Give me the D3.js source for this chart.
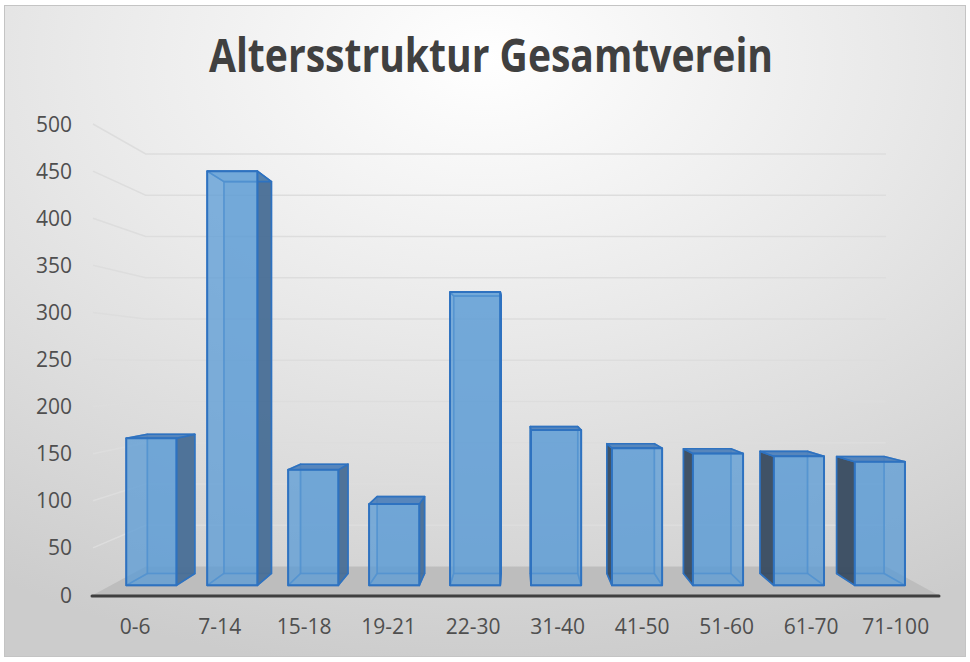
<!DOCTYPE html>
<html>
<head>
<meta charset="utf-8">
<script src="https://cdn.jsdelivr.net/npm/d3@7"></script>
<style>
  body { margin: 0; background: #fff; }
  svg { display: block; font-family: "Open Sans", "DejaVu Sans", sans-serif; }
</style>
</head>
<body>
<div id="chart"></div>
<script>
// Data
const categories = ["0-6", "7-14", "15-18", "19-21", "22-30", "31-40", "41-50", "51-60", "61-70", "71-100"];
const values = [163, 459, 128, 90, 325, 172, 152, 146, 143, 137];
const yTicks = [0, 50, 100, 150, 200, 250, 300, 350, 400, 450, 500];
const title = "Altersstruktur Gesamtverein";

const width = 970, height = 662;

// Front plane of the 3D box (z = 0), in pixels
const x = d3.scaleBand().domain(categories).range([93, 938])
    .paddingInner(0.38).paddingOuter(0.19);
const y = d3.scaleLinear().domain([0, 500]).range([595, 124]);

// Simple perspective: points recede toward a vanishing point as depth grows
const vp = {x: 518, y: 365};
const k = 1 / 0.876 - 1;            // depth 1 (back wall) is drawn at 0.876 scale
const barZ = [0.31, 0.73];          // bar front / back depth

function project(X, Y, z) {
    const s = 1 / (1 + k * z);
    return [vp.x + (X - vp.x) * s, vp.y + (Y - vp.y) * s];
}

const svg = d3.select("#chart").append("svg")
    .attr("width", width)
    .attr("height", height);

// --- Background ---
const defs = svg.append("defs");
const grad = defs.append("radialGradient")
    .attr("id", "bg")
    .attr("cx", "50%").attr("cy", "8%").attr("r", "95%");
grad.append("stop").attr("offset", "0%").attr("stop-color", "#ffffff");
grad.append("stop").attr("offset", "45%").attr("stop-color", "#e9e9e9");
grad.append("stop").attr("offset", "100%").attr("stop-color", "#cccccc");

svg.append("rect")
    .attr("x", 4.5).attr("y", 5.5)
    .attr("width", 961).attr("height", 651)
    .attr("fill", "url(#bg)")
    .attr("stroke", "#c4c4c4");

const line = d3.line();

// --- Gridlines on side wall and back wall ---
svg.append("g")
    .attr("fill", "none")
    .attr("stroke", "#dddddd")
    .attr("stroke-width", 1.5)
    .selectAll("path")
    .data(yTicks.filter(d => d > 0))
    .join("path")
    .attr("d", d => line([
        project(x.range()[0], y(d), 0),
        project(x.range()[0], y(d), 1),
        project(x.range()[1], y(d), 1)
    ]));

// --- Floor ---
const [fx0, fx1] = x.range();
svg.append("path")
    .attr("fill", "#bdbdbd")
    .attr("d", line([
        project(fx0, y(0), 0), project(fx1, y(0), 0),
        project(fx1, y(0), 1), project(fx0, y(0), 1)
    ]) + "Z");

// --- Bars ---
const bars = svg.append("g")
    .attr("stroke", "#2e72c0")
    .attr("stroke-width", 1.6)
    .attr("stroke-linejoin", "round")
    .selectAll("g")
    .data(categories.map((c, i) => ({cat: c, value: values[i]})))
    .join("g");

bars.each(function(d) {
    const g = d3.select(this);
    const xl = x(d.cat), xr = xl + x.bandwidth();
    const yt = y(d.value), yb = y(0);
    const [z0, z1] = barZ;
    const F = (X, Y) => project(X, Y, z0);
    const B = (X, Y) => project(X, Y, z1);
    const poly = pts => line(pts) + "Z";

    const leftFace = [F(xl, yt), B(xl, yt), B(xl, yb), F(xl, yb)];
    const rightFace = [F(xr, yt), B(xr, yt), B(xr, yb), F(xr, yb)];
    const showRight = F(xr, 0)[0] < vp.x;
    const showLeft = F(xl, 0)[0] > vp.x;

    // back face
    g.append("path")
        .attr("d", poly([B(xl, yt), B(xr, yt), B(xr, yb), B(xl, yb)]))
        .attr("fill", "#5b9bd5").attr("fill-opacity", 0.3)
        .attr("stroke-opacity", 0.6);
    // bottom face
    g.append("path")
        .attr("d", poly([F(xl, yb), F(xr, yb), B(xr, yb), B(xl, yb)]))
        .attr("fill", "none").attr("stroke-opacity", 0.6);
    // hidden side faces (seen through the glass)
    if (!showRight) g.append("path").attr("d", poly(rightFace))
        .attr("fill", "none").attr("stroke-opacity", 0.6);
    if (!showLeft) g.append("path").attr("d", poly(leftFace))
        .attr("fill", "none").attr("stroke-opacity", 0.6);
    // visible side face
    if (showRight) g.append("path").attr("d", poly(rightFace))
        .attr("fill", "#4a6f96").attr("fill-opacity", 0.95);
    if (showLeft) g.append("path").attr("d", poly(leftFace))
        .attr("fill", "#3a4c60").attr("fill-opacity", 0.95);
    // top face
    g.append("path")
        .attr("d", poly([F(xl, yt), F(xr, yt), B(xr, yt), B(xl, yt)]))
        .attr("fill", yt > vp.y ? "#5283bb" : "#5b9bd5")
        .attr("fill-opacity", yt > vp.y ? 0.95 : 0.3);
    // front face
    g.append("path")
        .attr("d", poly([F(xl, yt), F(xr, yt), F(xr, yb), F(xl, yb)]))
        .attr("fill", "#5b9bd5").attr("fill-opacity", 0.76)
        .attr("stroke-width", 2);
});

// --- Category axis line ---
svg.append("line")
    .attr("x1", fx0 - 1).attr("x2", fx1 + 1)
    .attr("y1", y(0) + 1).attr("y2", y(0) + 1)
    .attr("stroke", "#3f3f3f")
    .attr("stroke-width", 3)
    .attr("stroke-linecap", "round");

// --- Value labels ---
svg.append("g")
    .attr("fill", "#4f4f4f")
    .attr("font-size", 21)
    .attr("text-anchor", "end")
    .selectAll("text")
    .data(yTicks)
    .join("text")
    .attr("x", 72)
    .attr("y", d => y(d))
    .attr("dy", "0.36em")
    .text(d => d);

// --- Category labels ---
svg.append("g")
    .attr("fill", "#4f4f4f")
    .attr("font-size", 21)
    .attr("text-anchor", "middle")
    .selectAll("text")
    .data(categories)
    .join("text")
    .attr("x", d => x(d) + x.bandwidth() / 2)
    .attr("y", 634)
    .text(d => d);

// --- Title ---
svg.append("text")
    .attr("x", 491)
    .attr("y", 72)
    .attr("text-anchor", "middle")
    .attr("font-size", 46)
    .attr("font-weight", "bold")
    .attr("fill", "#404040")
    .attr("textLength", 564)
    .attr("lengthAdjust", "spacingAndGlyphs")
    .text(title);
</script>
</body>
</html>
